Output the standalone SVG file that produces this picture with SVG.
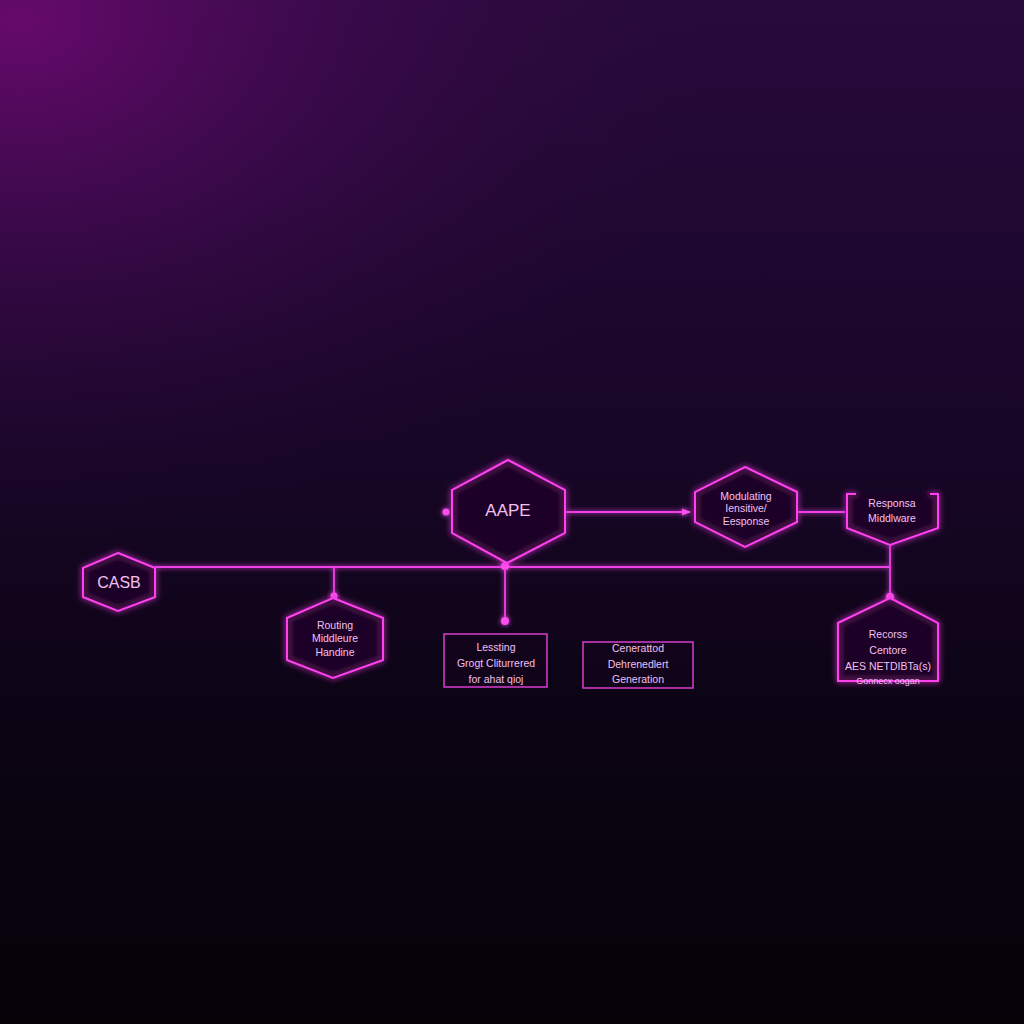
<svg xmlns="http://www.w3.org/2000/svg" width="1024" height="1024" viewBox="0 0 1024 1024">
<defs>
<linearGradient id="bg" x1="0" y1="0" x2="0" y2="1">
<stop offset="0" stop-color="#280a3c"/>
<stop offset="0.45" stop-color="#170626"/>
<stop offset="0.7" stop-color="#0c0414"/>
<stop offset="1" stop-color="#050208"/>
</linearGradient>
<radialGradient id="rg" cx="0" cy="0" r="1" gradientUnits="userSpaceOnUse" gradientTransform="translate(20 20) scale(700 520)">
<stop offset="0" stop-color="#6a0a6e" stop-opacity="0.95"/>
<stop offset="0.5" stop-color="#4a0a58" stop-opacity="0.45"/>
<stop offset="1" stop-color="#2a0838" stop-opacity="0"/>
</radialGradient>
<filter id="glow" x="-30%" y="-30%" width="160%" height="160%">
<feGaussianBlur in="SourceGraphic" stdDeviation="3" result="b"/>
<feMerge><feMergeNode in="b"/><feMergeNode in="SourceGraphic"/></feMerge>
</filter>
<filter id="lglow" filterUnits="userSpaceOnUse" x="0" y="0" width="1024" height="1024">
<feGaussianBlur in="SourceGraphic" stdDeviation="2.5" result="b"/>
<feMerge><feMergeNode in="b"/><feMergeNode in="SourceGraphic"/></feMerge>
</filter>
<marker id="arr" viewBox="0 0 10 10" refX="9" refY="5" markerWidth="5" markerHeight="5" orient="auto">
<path d="M0,1 L10,5 L0,9 Z" fill="#ff4df0"/>
</marker>
</defs>
<style>
.shape{fill:#1c0626;fill-opacity:0.75;stroke:#ff40ee;stroke-width:2;filter:url(#glow)}
.shape2{fill:#14041c;fill-opacity:0.6;stroke:#d83cd0;stroke-width:1.5}
.line{stroke:#ee40e6;stroke-width:1.8;fill:none}
.dot{fill:#ff4df0}
.t{font-family:"Liberation Sans",Arial,sans-serif;fill:#f2c0f0;text-anchor:middle}
.s{font-size:10.5px}
</style>
<rect width="1024" height="1024" fill="url(#bg)"/>
<rect width="1024" height="1024" fill="url(#rg)"/>

<g id="connectors" filter="url(#lglow)">
<polyline class="line" points="155,567 890,567"/>
<line class="line" x1="334" y1="567" x2="334" y2="596"/>
<line class="line" x1="505" y1="563" x2="505" y2="621"/>
<line class="line" x1="890" y1="545" x2="890" y2="597"/>
<line class="line" x1="565" y1="512" x2="690" y2="512" marker-end="url(#arr)"/>
<line class="line" x1="797" y1="512" x2="845" y2="512"/>
<circle class="dot" cx="446" cy="512" r="3.5"/>
<circle class="dot" cx="505" cy="566" r="4"/>
<circle class="dot" cx="334" cy="596" r="3.5"/>
<circle class="dot" cx="505" cy="621" r="4"/>
<circle class="dot" cx="890" cy="597" r="4"/>
</g>

<g id="casb">
<polygon class="shape" points="118,553 155,568 155,597 118,611 83,597 83,568"/>
<text class="t" x="119" y="588" font-size="16">CASB</text>
</g>

<g id="aape">
<polygon class="shape" points="508,460 565,490 565,533 507,563 452,533 452,490"/>
<text class="t" x="508" y="516" font-size="17">AAPE</text>
</g>

<g id="modulating">
<polygon class="shape" points="745,467 797,492 797,522 745,547 695,522 695,492"/>
<text class="t s" x="746" y="500">Modulating</text>
<text class="t s" x="746" y="512">Iensitive/</text>
<text class="t s" x="746" y="525">Eesponse</text>
</g>

<g id="response-middleware">
<polyline class="shape" fill="none" points="856,494 847,494 847,528 890,545 938,528 938,494 930,494"/>
<text class="t s" x="892" y="507">Responsa</text>
<text class="t s" x="892" y="522">Middlware</text>
</g>

<g id="routing">
<polygon class="shape" points="333,598 383,618 383,660 333,678 287,660 287,618"/>
<text class="t s" x="335" y="629">Routing</text>
<text class="t s" x="335" y="642">Middleure</text>
<text class="t s" x="335" y="656">Handine</text>
</g>

<g id="lessting">
<rect class="shape2" x="444" y="634" width="103" height="53"/>
<text class="t s" x="496" y="651">Lessting</text>
<text class="t s" x="496" y="667">Grogt Cliturrered</text>
<text class="t s" x="496" y="683">for ahat qioj</text>
</g>

<g id="generated">
<rect class="shape2" x="583" y="642" width="110" height="46"/>
<text class="t s" x="638" y="652">Cenerattod</text>
<text class="t s" x="638" y="668">Dehrenedlert</text>
<text class="t s" x="638" y="683">Generation</text>
</g>

<g id="recourse">
<polygon class="shape" points="890,598 938,623 938,681 838,681 838,623"/>
<text class="t s" x="888" y="638">Recorss</text>
<text class="t s" x="888" y="654">Centore</text>
<text class="t s" x="888" y="670">AES NETDIBTa(s)</text>
<text class="t" x="888" y="684" font-size="9">Gonnecx oogan</text>
</g>
</svg>
